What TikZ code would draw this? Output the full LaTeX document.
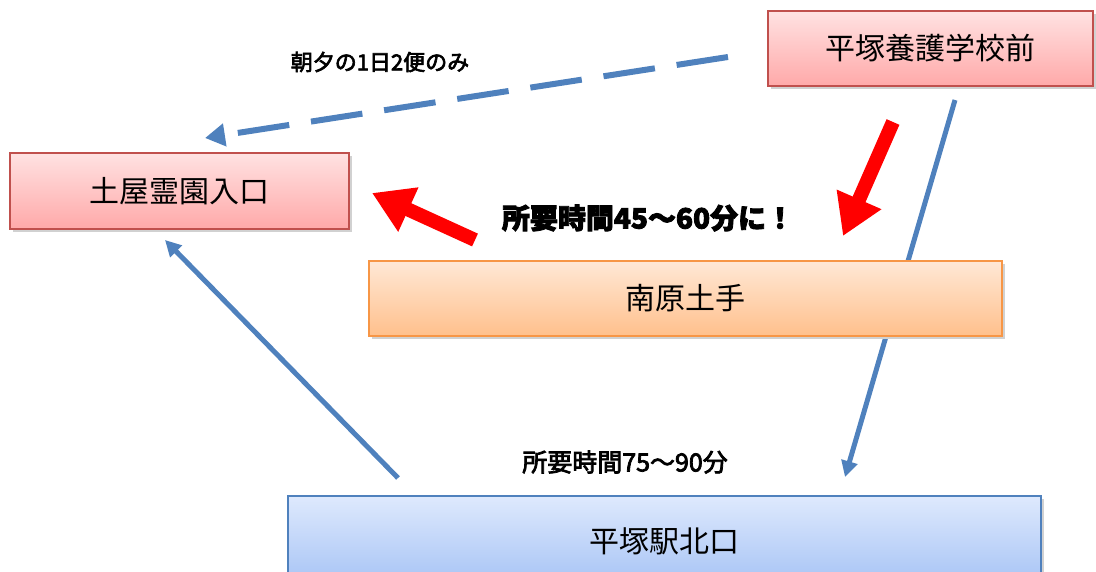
\documentclass[tikz,border=0pt]{standalone}
\usepackage{fontspec}
\newfontfamily\jp{Noto Sans CJK JP}
\newfontfamily\jpb{Noto Sans CJK JP}[FakeBold=3]
\usetikzlibrary{arrows.meta,shadows}
\definecolor{lineblue}{HTML}{4F81BD}
\definecolor{redborder}{HTML}{C0504D}
\definecolor{orgborder}{HTML}{F79646}
\definecolor{redtop}{HTML}{FFE2E2}
\definecolor{redbot}{HTML}{FFA9A9}
\definecolor{orgtop}{HTML}{FFE8D6}
\definecolor{orgbot}{HTML}{FFC08C}
\definecolor{blutop}{HTML}{DEE9FD}
\definecolor{blubot}{HTML}{A6C3F5}
\tikzset{
  stopbox/.style={draw, line width=1.2pt, inner sep=0pt, font=\jp\fontsize{30}{33}\selectfont,
     drop shadow={shadow xshift=3pt, shadow yshift=-3pt, fill=black!18, opacity=1}},
  redbox/.style={stopbox, draw=redborder, top color=redtop, bottom color=redbot},
  orgbox/.style={stopbox, draw=orgborder, top color=orgtop, bottom color=orgbot},
  bluebox/.style={stopbox, draw=lineblue, top color=blutop, bottom color=blubot},
  blueline/.style={draw=lineblue, line width=5pt, -{Triangle[length=16pt,width=16pt]}},
  dashline/.style={draw=lineblue, line width=6pt, dash pattern=on 52pt off 22pt, -{Triangle[length=20pt,width=22pt]}},
  redarrow/.style={draw=red, line width=14pt, -{Triangle[length=40pt,width=46pt]}},
  hand/.style={font=\jpb\fontsize{22}{25}\selectfont},
  handb/.style={font=\jpb\fontsize{25}{28}\selectfont},
  heavy/.style={font=\jpb\bfseries\fontsize{28}{31}\selectfont}
}
\begin{document}
\begin{tikzpicture}[x=1pt,y=-1pt]
\useasboundingbox (0,0) rectangle (1096,572);
% connectors behind boxes
\coordinate (b1s) at (955,100);
\coordinate (b1e) at (845,477);
\draw[blueline] (b1s) -- (b1e);
\coordinate (b2s) at (398,478);
\coordinate (b2e) at (165,240);
\draw[blueline] (b2s) -- (b2e);
\coordinate (ds) at (728,57);
\coordinate (de) at (205,138);
\draw[dashline] (ds) -- (de);
% boxes
\node[redbox, minimum width=325pt, minimum height=75pt] (hy) at (930.5,48.5) {平塚養護学校前};
\node[redbox, minimum width=339pt, minimum height=76pt] (tr) at (179.5,191) {土屋霊園入口};
\node[orgbox, minimum width=633pt, minimum height=75pt] (nh) at (685.5,298.5) {南原土手};
\node[bluebox, minimum width=753pt, minimum height=90pt] (hs) at (664.5,541) {平塚駅北口};
% red arrows
\coordinate (r1s) at (475,240);
\coordinate (r1e) at (372,193);
\draw[redarrow] (r1s) -- (r1e);
\coordinate (r2s) at (893,122);
\coordinate (r2e) at (843,236);
\draw[redarrow] (r2s) -- (r2e);
% labels
\node[hand] (l1) at (380,62) {朝夕の1日2便のみ};
\node[heavy] (l2) at (648,218) {所要時間45〜60分に！};
\node[handb] (l3) at (625,462) {所要時間75〜90分};
\end{tikzpicture}
\end{document}
